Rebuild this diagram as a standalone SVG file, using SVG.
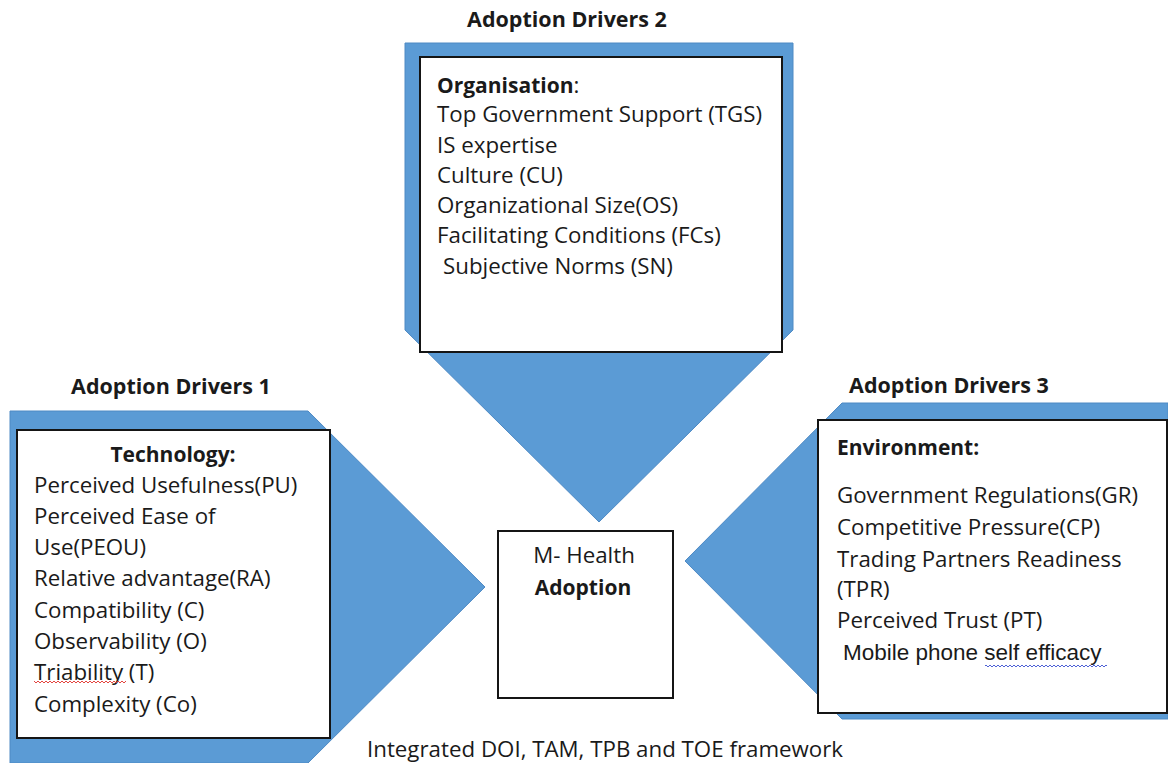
<svg xmlns="http://www.w3.org/2000/svg" width="1168" height="763" viewBox="0 0 1168 763">
  <defs>
    <style>
      .arrow { fill: #5B9BD5; stroke: #4F8AC4; stroke-width: 1; }
      .box { fill: #ffffff; stroke: #151515; stroke-width: 2; }
      .t { font-family: "Open Sans", "Liberation Sans", sans-serif; font-size: 22.3px; fill: #1a1a1a; }
      .b { font-weight: bold; font-size: 21px; }
      .h { font-family: "Open Sans", "Liberation Sans", sans-serif; font-size: 21.5px; font-weight: bold; fill: #1a1a1a; text-anchor: middle; }
      .arial { font-family: "Liberation Sans", Arial, sans-serif; font-size: 22.5px; fill: #1a1a1a; }
    </style>
    <pattern id="sqRed" width="4" height="4" patternUnits="userSpaceOnUse">
      <path d="M0 3 L2 1 L4 3" fill="none" stroke="#E0302A" stroke-width="0.9"/>
    </pattern>
    <pattern id="sqBlue" width="4" height="4" patternUnits="userSpaceOnUse">
      <path d="M0 3 L2 1 L4 3" fill="none" stroke="#3A4FD0" stroke-width="0.9"/>
    </pattern>
  </defs>

  <rect width="1168" height="763" fill="#ffffff"/>

  <g id="connectors">
    <polygon class="arrow" points="405,43 793,43 793,330 599,522 405,330"/>
    <polygon class="arrow" points="10,411 308,411 485,587 308,763 10,763"/>
    <polygon class="arrow" points="1168,403 842,403 685,561 842,719 1168,719"/>
  </g>

  <g id="drivers2">
    <text class="h" x="567" y="27">Adoption Drivers 2</text>
    <rect class="box" x="420" y="57" width="362" height="295"/>
    <text class="t" x="437" y="93"><tspan class="b">Organisation</tspan>:</text>
    <text class="t" x="437" y="122">Top Government Support (TGS)</text>
    <text class="t" x="437" y="153">IS expertise</text>
    <text class="t" x="437" y="183">Culture (CU)</text>
    <text class="t" x="437" y="213">Organizational Size(OS)</text>
    <text class="t" x="437" y="243">Facilitating Conditions (FCs)</text>
    <text class="t" x="443" y="274">Subjective Norms (SN)</text>
  </g>

  <g id="drivers1">
    <text class="h" x="171" y="394">Adoption Drivers 1</text>
    <rect class="box" x="17" y="430" width="313" height="308"/>
    <text class="t b" x="173" y="462" text-anchor="middle">Technology:</text>
    <text class="t" x="34" y="493">Perceived Usefulness(PU)</text>
    <text class="t" x="34" y="524">Perceived Ease of</text>
    <text class="t" x="34" y="555">Use(PEOU)</text>
    <text class="t" x="34" y="586">Relative advantage(RA)</text>
    <text class="t" x="34" y="618">Compatibility (C)</text>
    <text class="t" x="34" y="649">Observability (O)</text>
    <text class="t" x="34" y="680">Triability (T)</text>
    <rect x="34" y="680" width="92" height="4" fill="url(#sqRed)"/>
    <text class="t" x="34" y="712">Complexity (Co)</text>
  </g>

  <g id="drivers3">
    <text class="h" x="949" y="393">Adoption Drivers 3</text>
    <rect class="box" x="818" y="420" width="349" height="293"/>
    <text class="t b" x="837" y="455">Environment:</text>
    <text class="t" x="837" y="503">Government Regulations(GR)</text>
    <text class="t" x="837" y="535">Competitive Pressure(CP)</text>
    <text class="t" x="837" y="567">Trading Partners Readiness</text>
    <text class="t" x="837" y="597">(TPR)</text>
    <text class="t" x="837" y="628">Perceived Trust (PT)</text>
    <text class="arial" x="843" y="660">Mobile phone self efficacy</text>
    <rect x="985" y="664" width="122" height="4" fill="url(#sqBlue)"/>
  </g>

  <g id="mhealth">
    <rect class="box" x="498" y="531" width="175" height="167"/>
    <text class="t" x="584" y="563" text-anchor="middle">M- Health</text>
    <text class="t b" x="583" y="595" text-anchor="middle">Adoption</text>
  </g>

  <g id="caption">
    <text class="t" x="367" y="757">Integrated DOI, TAM, TPB and TOE framework</text>
  </g>
</svg>
